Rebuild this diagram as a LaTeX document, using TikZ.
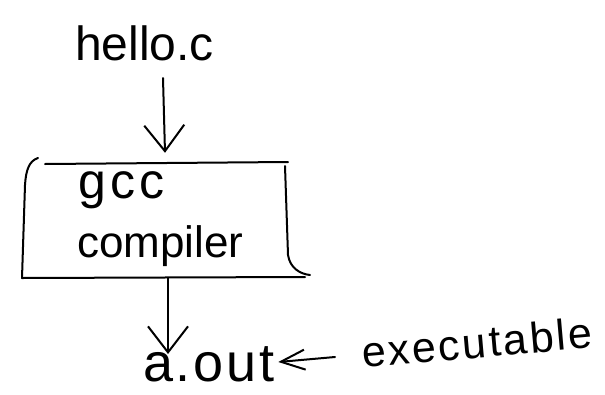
\documentclass[tikz,border=0pt]{standalone}
\usepackage{fontspec}
\setmainfont{Liberation Sans}
\usetikzlibrary{arrows.meta,calc}
\begin{document}
\begin{tikzpicture}[x=1pt,y=-1pt,
  ink/.style={line width=2pt, line cap=round, line join=round},
  arr/.style={ink, -{Straight Barb[length=26pt,width=40pt,line width=2pt]}},
  arrsmall/.style={ink, -{Straight Barb[length=24pt,width=20pt,line width=2pt]}},
  word/.style={inner sep=0pt, anchor=base west},
]
\useasboundingbox (0,0) rectangle (605,394);

% labels
\node[word, font=\fontsize{48}{48}\selectfont] (hello) at (75,60) {hello.c};
\node[inner sep=0pt, minimum width=262pt, minimum height=116pt] (box) at (156,220) {};
\node[word, font=\fontsize{50}{50}\selectfont\addfontfeature{LetterSpace=8}] (gcc) at (78,198) {gcc};
\node[word, font=\fontsize{44}{44}\selectfont] (comp) at (77,257) {compiler};
\node[word, font=\fontsize{54}{54}\selectfont\addfontfeature{LetterSpace=5}] (aout) at (143,381) {a.out};
\node[word, font=\fontsize{43}{43}\selectfont\addfontfeature{LetterSpace=6}, rotate=5] (exe) at (363,368) {executable};

% compiler box, drawn as a rough scroll outline
\draw[ink] (45,164) -- (288,162);
\draw[ink] (38,158) .. controls (29,161) and (26,170) .. (25,185) -- (22,278);
\draw[ink] (22,278) -- (305,277);
\draw[ink] (285,166) -- (288,255) .. controls (290,268) and (300,274) .. (310,275);

% connectors
\draw[arr] ($(hello.base west)+(88,18)$) -- ($(box.north)+(9,-9)$);
\draw[arr] ($(box.south)+(12,0)$) -- ($(aout.base west)+(25,-27)$);
\draw[arrsmall] ($(exe.base west)+(-28,-11)$) -- ($(aout.base east)+(4,-19)$);
\end{tikzpicture}
\end{document}
